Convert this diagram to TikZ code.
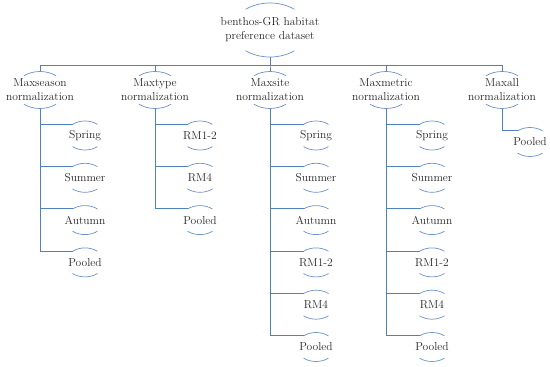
\documentclass[tikz,border=0pt]{standalone}
\usepackage{tikz}
\usetikzlibrary{calc, positioning}
\definecolor{azul}{RGB}{79,129,189}
\definecolor{azulclaro}{RGB}{110,145,200}
\tikzset{
    linea/.style={draw=azul, line width=0.9pt},
    arco/.style={draw=azulclaro, line width=0.7pt},
    raiz/.style={inner sep=0pt, minimum height=54pt, align=center, text=black!85},
    nivel/.style={inner sep=0pt, minimum height=37pt, align=center, text=black!85},
    hoja/.style={inner sep=0pt, minimum height=22.2pt, text=black!85},
}
% top and bottom arcs round a node: name, x radius, y radius
\newcommand{\arcosnodo}[3]{%
\draw[arco] (#1.center) ++(50:#2 and #3) arc[start angle=50, end angle=130, x radius=#2, y radius=#3];
\draw[arco] (#1.center) ++(230:#2 and #3) arc[start angle=230, end angle=310, x radius=#2, y radius=#3];}

\begin{document}
\begin{tikzpicture}[x=1pt, y=1pt, font=\fontsize{11.5}{14}\selectfont]
\useasboundingbox (0,0) rectangle (550,-367);
\node[raiz] (dataset) at (270,-30) {benthos-GR habitat\\preference dataset};
\arcosnodo{dataset}{38pt}{27pt}
\coordinate (bus) at (270,-65);
\node[nivel] (maxseason) at (40,-90) {Maxseason\\normalization};
\node[nivel] (maxtype) at (155,-90) {Maxtype\\normalization};
\node[nivel] (maxsite) at (270,-90) {Maxsite\\normalization};
\node[nivel] (maxmetric) at (386,-90) {Maxmetric\\normalization};
\node[nivel] (maxall) at (502,-90) {Maxall\\normalization};
\foreach \n in {maxseason, maxtype, maxsite, maxmetric, maxall} {
    \draw[linea] (dataset.south) -- (bus) -| (\n.north);
    \arcosnodo{\n}{25pt}{18.5pt}
}
\begin{scope}[shift={(40,0)}]
\foreach \t [count=\i] in {Spring, Summer, Autumn, Pooled} {
    \node[hoja] (season\i) at (45,{-135.5-42.3*(\i-1)}) {\t};
    \draw[linea] (maxseason.south) |- ([xshift=-12.5pt]season\i.north);
    \arcosnodo{season\i}{19.4pt}{14.5pt}
}
\end{scope}
\begin{scope}[shift={(155,0)}]
\foreach \t [count=\i] in {RM1-2, RM4, Pooled} {
    \node[hoja] (type\i) at (45,{-135.5-42.3*(\i-1)}) {\t};
    \draw[linea] (maxtype.south) |- ([xshift=-12.5pt]type\i.north);
    \arcosnodo{type\i}{19.4pt}{14.5pt}
}
\end{scope}
\begin{scope}[shift={(270,0)}]
\foreach \t [count=\i] in {Spring, Summer, Autumn, RM1-2, RM4, Pooled} {
    \node[hoja] (site\i) at (46,{-135.5-42.3*(\i-1)}) {\t};
    \draw[linea] (maxsite.south) |- ([xshift=-12.5pt]site\i.north);
    \arcosnodo{site\i}{19.4pt}{14.5pt}
}
\end{scope}
\begin{scope}[shift={(386,0)}]
\foreach \t [count=\i] in {Spring, Summer, Autumn, RM1-2, RM4, Pooled} {
    \node[hoja] (metric\i) at (46,{-135.5-42.3*(\i-1)}) {\t};
    \draw[linea] (maxmetric.south) |- ([xshift=-12.5pt]metric\i.north);
    \arcosnodo{metric\i}{19.4pt}{14.5pt}
}
\end{scope}
\node[hoja] (all1) at (530,-142) {Pooled};
\draw[linea] (maxall.south) |- ([xshift=-12.5pt]all1.north);
\arcosnodo{all1}{19.4pt}{14.5pt}
\end{tikzpicture}
\end{document}
